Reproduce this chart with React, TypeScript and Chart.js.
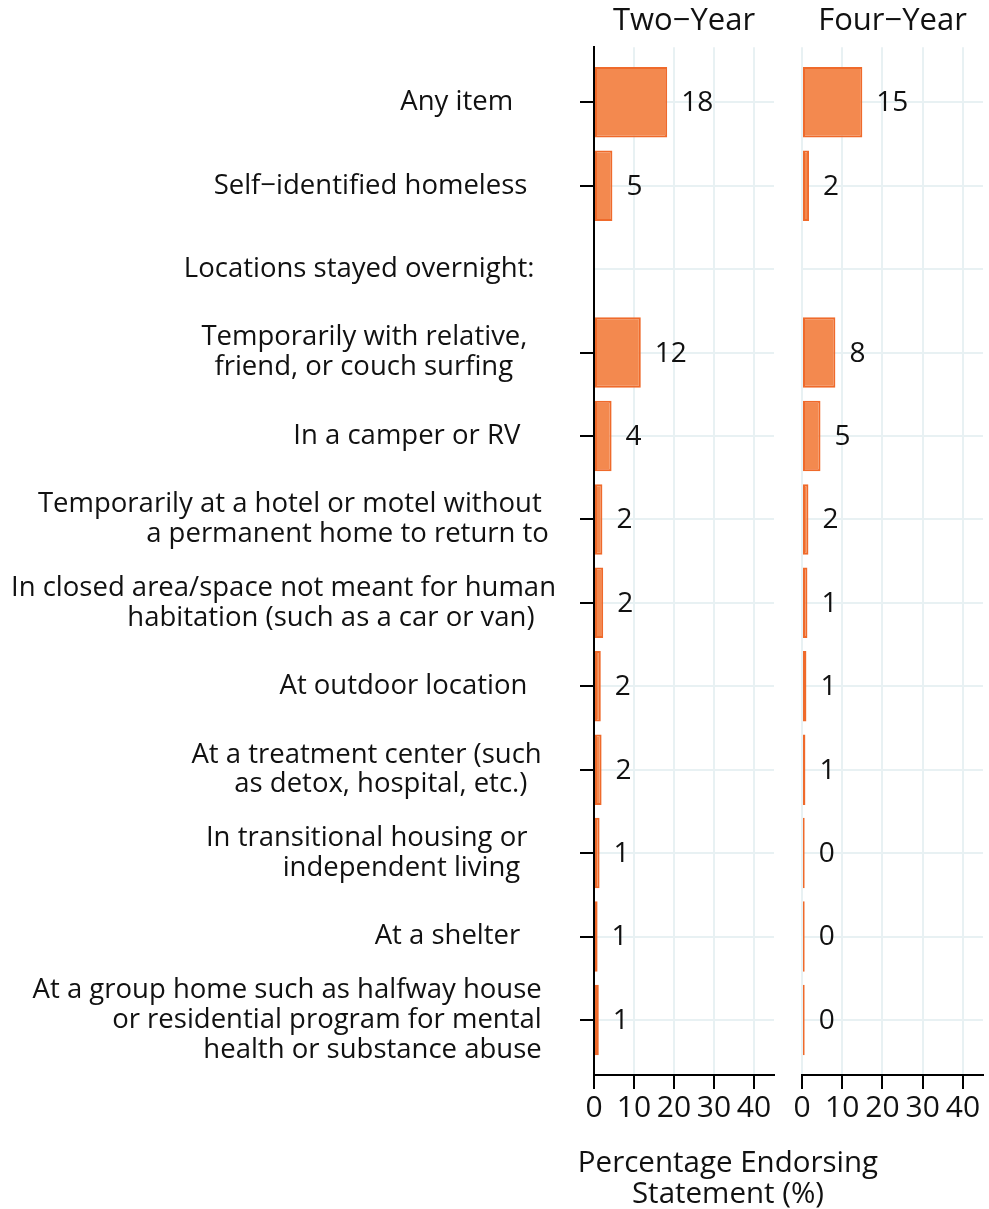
import React, { useEffect, useRef } from "react";
import { Chart, registerables } from "chart.js";

Chart.register(...registerables);

// ---------- data ----------
const categories: string[][] = [
  ["Any item      "],
  ["Self−identified homeless    "],
  ["Locations stayed overnight:   "],
  ["Temporarily with relative,    ", "friend, or couch surfing      "],
  ["In a camper or RV     "],
  ["Temporarily at a hotel or motel without  ", "a permanent home to return to "],
  ["In closed area/space not meant for human", "habitation (such as a car or van)   "],
  ["At outdoor location    "],
  ["At a treatment center (such  ", "as detox, hospital, etc.)    "],
  ["In transitional housing or    ", "independent living     "],
  ["At a shelter     "],
  ["At a group home such as halfway house  ", "or residential program for mental  ", "health or substance abuse  "],
];
const twoYear: (number | null)[] = [18.3, 4.6, null, 11.7, 4.4, 2.1, 2.3, 1.7, 1.9, 1.4, 0.9, 1.2];
const fourYear: (number | null)[] = [15.0, 1.75, null, 8.3, 4.6, 1.6, 1.35, 1.1, 0.85, 0.45, 0.45, 0.45];
const xTicks: number[] = [0, 10, 20, 30, 40];
const panelTitles: string[] = ["Two−Year", "Four−Year"];
const xAxisTitle: string[] = ["Percentage Endorsing", "Statement (%)"];

// ---------- styles ----------
const FONT = "'Open Sans'";
const TEXT = "#111111";
const GRID = "#E8F1F3";
const BAR_FILL = "#F3894F";
const BAR_EDGE = "#EF6A2B";
const W = 989;
const H = 1209;

Chart.defaults.font.family = FONT;

const valueLabels = {
  id: "valueLabels",
  afterDatasetsDraw(chart: any) {
    const ctx = chart.ctx;
    const meta = chart.getDatasetMeta(0);
    const ds = chart.data.datasets[0];
    ctx.save();
    ctx.font = `28px ${FONT}`;
    ctx.fillStyle = TEXT;
    ctx.textAlign = "left";
    ctx.textBaseline = "middle";
    meta.data.forEach((el: any, i: number) => {
      const raw = ds.data[i];
      const p = el.getProps(["x", "y"], true);
      ctx.fillText(String(Math.round(raw.x)), p.x + 14, p.y + 1);
    });
    ctx.restore();
  },
};

function toPoints(vals: (number | null)[]) {
  return vals
    .map((v, i) => (v == null ? null : { x: v, y: i }))
    .filter((p) => p !== null) as { x: number; y: number }[];
}

function makeConfig(vals: (number | null)[], title: string, left: boolean): any {
  return {
    type: "bar",
    data: {
      datasets: [
        {
          data: toPoints(vals),
          backgroundColor: BAR_FILL,
          borderColor: BAR_EDGE,
          borderWidth: 2,
          borderSkipped: false,
          minBarLength: 2.7,
          categoryPercentage: 1,
          barPercentage: 0.845,
        },
      ],
    },
    plugins: [valueLabels],
    options: {
      indexAxis: "y",
      responsive: false,
      animation: false,
      devicePixelRatio: 1,
      layout: {
        padding: left
          ? { left: 0, right: W - 774, top: 0, bottom: 0 }
          : { left: 802, right: W - 983, top: 0, bottom: 0 },
      },
      plugins: {
        legend: { display: false },
        tooltip: { enabled: false },
        title: {
          display: true,
          text: title,
          fullSize: false,
          color: TEXT,
          font: { size: 31, weight: "normal", family: FONT },
          padding: { top: 3, bottom: 7 },
        },
      },
      scales: {
        x: {
          type: "linear",
          position: "bottom",
          min: 0,
          max: 45,
          offset: false,
          afterFit: (s: any) => {
            s.height = H - 1075;
          },
          afterBuildTicks: (s: any) => {
            s.ticks = xTicks.map((v) => ({ value: v }));
          },
          border: { display: true, color: "#000", width: 2, z: 1 },
          grid: {
            offset: false,
            color: GRID,
            lineWidth: 2,
            tickColor: "#000",
            tickLength: 14,
            tickWidth: 2,
          },
          ticks: {
            autoSkip: false,
            maxRotation: 0,
            minRotation: 0,
            includeBounds: false,
            padding: 1,
            color: TEXT,
            font: { size: 30, family: FONT },
          },
        },
        y: {
          type: "linear",
          position: "left",
          reverse: true,
          min: -0.66,
          max: 11.66,
          offset: false,
          afterFit: (s: any) => {
            s.width = left ? 594 : 0;
          },
          border: { display: left, color: "#000", width: 2, z: 1 },
          grid: {
            offset: false,
            color: GRID,
            lineWidth: 2,
            drawTicks: left,
            tickColor: (c: any) =>
              c.tick && vals[Math.round(c.tick.value)] == null ? "rgba(0,0,0,0)" : "#000",
            tickLength: 14,
            tickWidth: 2,
          },
          ticks: {
            display: left,
            stepSize: 1,
            includeBounds: false,
            autoSkip: false,
            padding: 24,
            color: TEXT,
            font: { size: 27.5, lineHeight: 1.09, family: FONT },
            callback: (v: number) => categories[Math.round(v)] ?? "",
          },
        },
      },
    },
  };
}

export default function App() {
  const refA = useRef<HTMLCanvasElement>(null);
  const refB = useRef<HTMLCanvasElement>(null);

  useEffect(() => {
    const a = new Chart(refA.current as HTMLCanvasElement, makeConfig(twoYear, panelTitles[0], true));
    const b = new Chart(refB.current as HTMLCanvasElement, makeConfig(fourYear, panelTitles[1], false));
    return () => {
      a.destroy();
      b.destroy();
    };
  }, []);

  const canvasStyle: React.CSSProperties = {
    position: "absolute",
    left: 0,
    top: 0,
    width: W,
    height: H,
  };

  return (
    <div
      style={{
        position: "fixed",
        left: 0,
        top: 0,
        width: W,
        height: H,
        background: "#fff",
        overflow: "hidden",
      }}
    >
      <canvas ref={refA} width={W} height={H} style={canvasStyle} />
      <canvas ref={refB} width={W} height={H} style={canvasStyle} />
      <div
        style={{
          position: "absolute",
          left: 728 - 250,
          width: 500,
          top: 1145,
          textAlign: "center",
          fontFamily: FONT,
          fontSize: 29.5,
          lineHeight: "31px",
          color: TEXT,
        }}
      >
        {xAxisTitle.map((t, i) => (
          <div key={i}>{t}</div>
        ))}
      </div>
    </div>
  );
}
